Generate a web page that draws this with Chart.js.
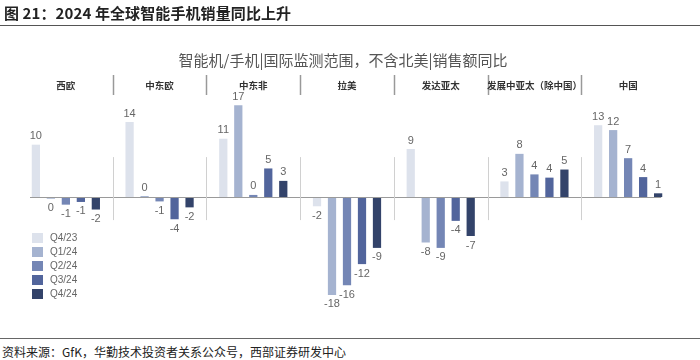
<!DOCTYPE html>
<html><head><meta charset="utf-8">
<script src="https://cdn.jsdelivr.net/npm/chart.js@4.4.1/dist/chart.umd.min.js"></script>
<style>
html,body{margin:0;padding:0;background:#fff;width:700px;height:360px;overflow:hidden;font-family:"Noto Sans CJK SC","Liberation Sans",sans-serif;}
#title{position:absolute;left:4px;top:2px;font-size:15px;font-weight:bold;color:#222;letter-spacing:0.1px;}
#ctitle{position:absolute;left:0;width:686px;top:50px;text-align:center;font-size:15px;color:#555;line-height:20px;}
#rule1{position:absolute;left:0;top:25px;width:700px;height:0;border-top:1.5px solid #555;}
#rule2{position:absolute;left:0;top:338px;width:700px;height:0;border-top:1.5px solid #666;}
#src{position:absolute;left:2px;top:343px;font-size:12px;color:#222;}
#wrap{position:absolute;left:0;top:0;width:700px;height:336px;}
</style></head>
<body>
<div id="wrap"><canvas id="c" width="700" height="336"></canvas></div>
<div id="title">图 21：2024 年全球智能手机销量同比上升</div>
<div id="ctitle"></div>
<div id="rule1"></div>
<div id="rule2"></div>
<div id="src">资料来源：GfK，华勤技术投资者关系公众号，西部证券研发中心</div>
<script>
const categories = ["西欧","中东欧","中东非","拉美","发达亚太","发展中亚太（除中国）","中国"];
const seriesNames = ["Q4/23","Q1/24","Q2/24","Q3/24","Q4/24"];
const q423 = [9.7, 13.9, 10.8, -1.7, 8.9, 2.9, 13.3];
const q124 = [-0.3, 0.2, 17.0, -18.1, -8.4, 8.0, 12.4];
const q224 = [-1.4, -0.8, 0.4, -16.3, -9.4, 4.2, 7.2];
const q324 = [-0.9, -4.1, 5.3, -12.4, -4.4, 3.6, 3.7];
const q424 = [-2.3, -1.9, 3.0, -9.4, -7.2, 5.1, 0.7];
const colors = ["#dde2ec","#a5b3d0","#7486b5","#52659c","#33436a"];
const chartTitle = "智能机/手机|国际监测范围，不含北美|销售额同比";
document.getElementById('ctitle').textContent = chartTitle;

const seriesValues = [q423,q124,q224,q324,q424];

const overlay = {
  id:'overlay',
  afterDatasetsDraw(chart){
    const ctx = chart.ctx, x = chart.scales.x, y = chart.scales.y, ca = chart.chartArea;
    const step = (ca.right - ca.left) / categories.length;
    const y0 = y.getPixelForValue(0);
    ctx.save();
    // zero line
    ctx.strokeStyle = '#9a9a9a'; ctx.lineWidth = 1;
    ctx.beginPath(); ctx.moveTo(ca.left + 11, Math.round(y0) + 0.5); ctx.lineTo(ca.right - 14, Math.round(y0) + 0.5); ctx.stroke();
    // separators
    for (let i = 1; i < categories.length; i++) {
      const sx = Math.round(ca.left + step * i) + 0.5;
      ctx.strokeStyle = '#999'; ctx.lineWidth = 1.5;
      ctx.beginPath(); ctx.moveTo(sx, 75); ctx.lineTo(sx, 95); ctx.stroke();
      ctx.strokeStyle = '#d0d0d0'; ctx.lineWidth = 1;
      ctx.beginPath(); ctx.moveTo(sx, y0 - 40); ctx.lineTo(sx, y0 + 23); ctx.stroke();
    }
    // headers
    ctx.fillStyle = '#333'; ctx.font = 'bold 9.5px "Noto Sans CJK SC"';
    ctx.textAlign = 'center'; ctx.textBaseline = 'middle';
    categories.forEach((c, i) => ctx.fillText(c, x.getPixelForValue(i), 85));
    // data labels
    ctx.font = '11px "Liberation Sans", Arial'; ctx.fillStyle = '#666';
    chart.data.datasets.forEach((ds, di) => {
      const meta = chart.getDatasetMeta(di);
      meta.data.forEach((bar, i) => {
        const v = ds.data[i];
        const lab = String(Math.round(v) === 0 ? 0 : Math.round(v));
        if (v >= 0) { ctx.textBaseline = 'bottom'; ctx.fillText(lab, bar.x, bar.y - 3); }
        else { ctx.textBaseline = 'top'; ctx.fillText(lab, bar.x, bar.y + 4); }
      });
    });
    // legend
    ctx.textAlign = 'left'; ctx.textBaseline = 'middle'; ctx.font = '10px "Liberation Sans", Arial';
    const ly = [238, 252, 266, 280, 294];
    chart.data.datasets.forEach((ds, di) => {
      ctx.fillStyle = ds.backgroundColor;
      ctx.fillRect(32, ly[di] - 5, 11, 10);
      ctx.fillStyle = '#666';
      ctx.fillText(ds.label, 50, ly[di] + 0.5);
    });
    ctx.restore();
  }
};

new Chart(document.getElementById('c'), {
  type: 'bar',
  data: {
    labels: categories,
    datasets: seriesNames.map((n, i) => ({
      label: n, data: seriesValues[i], backgroundColor: colors[i],
      categoryPercentage: 0.8, barPercentage: 0.55, borderWidth: 0
    }))
  },
  options: {
    responsive: false, animation: false,
    layout: { padding: { left: 19, right: 25, top: 89, bottom: 20 } },
    plugins: {
      legend: { display: false }, tooltip: { enabled: false }, title: { display: false }
    },
    scales: {
      x: { display: false },
      y: { display: false, min: -22, max: 20 }
    }
  },
  plugins: [overlay]
});
</script>
</body></html>
